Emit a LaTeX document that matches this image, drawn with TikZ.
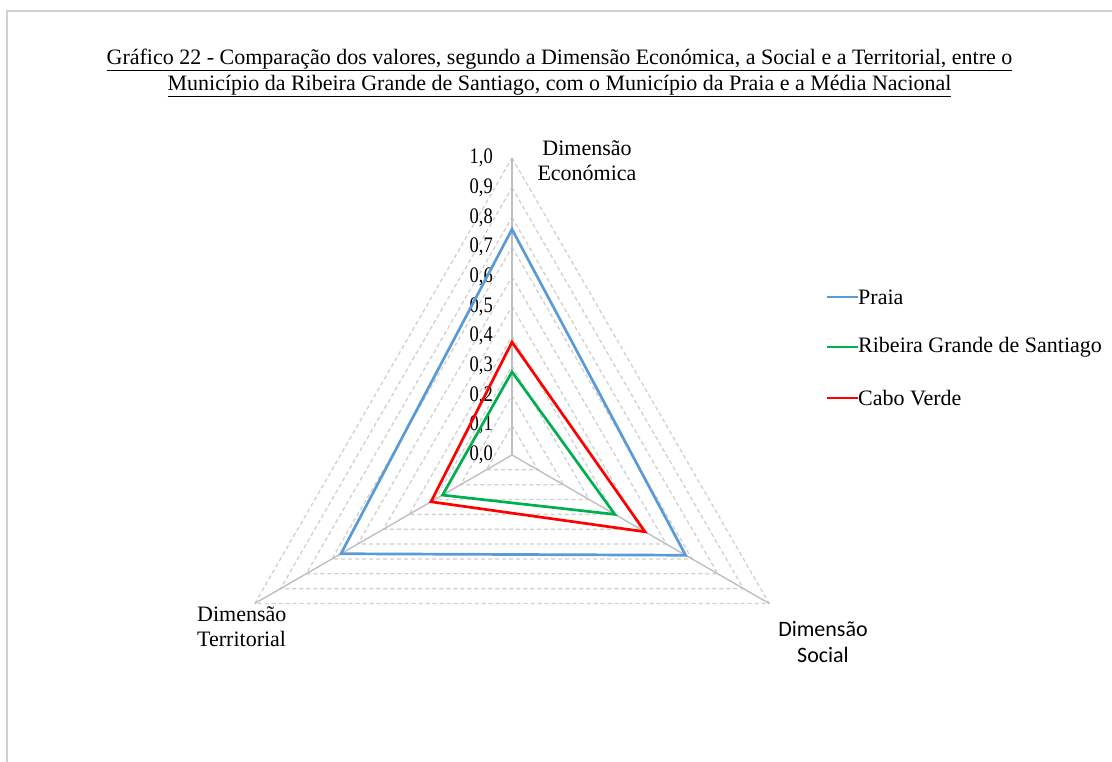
\documentclass[tikz,border=0pt]{standalone}
\usepackage{fontspec}
\setmainfont{Liberation Serif}
\newfontfamily\calibrifont{Carlito}
\definecolor{praiablue}{HTML}{5B9BD5}
\definecolor{rgsgreen}{HTML}{00B050}
\definecolor{cvred}{HTML}{FF0000}
\definecolor{gridgray}{HTML}{D0D0D0}
\definecolor{axisgray}{HTML}{BFBFBF}
\tikzset{
  gridline/.style={gridgray, dash pattern=on 4pt off 3pt, line width=1.3pt},
  spoke/.style={axisgray, line width=1.4pt},
  series/.style={line width=2.7pt, line join=miter},
  lbl/.style={font=\fontsize{22}{25}\selectfont, inner sep=0pt},
  ticklbl/.style={font=\fontsize{18.5}{22}\selectfont, inner sep=0pt, anchor=east},
}
\newcommand{\rad}{297}

\begin{document}
\begin{tikzpicture}[x=1pt,y=1pt]
    \useasboundingbox (-512,-307) rectangle (600,455);
    \draw[gridgray, line width=2pt] (-504.5,-310) -- (-504.5,443.5) -- (605,443.5);

    % title
    \node[lbl, align=center, font=\fontsize{22}{26}\selectfont] (title) at (47.5,382) {\underline{Gráfico 22 - Comparação dos valores, segundo a Dimensão Económica, a Social e a Territorial, entre o}\\
        \underline{Município da Ribeira Grande de Santiago, com o Município da Praia e a Média Nacional}};

    % grid (0,1 steps)
    \foreach \i in {1,...,10}{
        \draw[gridline] (90:{\i*\rad/10}) -- (-30:{\i*\rad/10}) -- (210:{\i*\rad/10}) -- cycle;
    }
    \foreach \a in {90,-30,210}{
        \draw[spoke] (0,0) -- (\a:\rad);
    }

    % scale labels
    \foreach \i in {0,...,9}{
        \node[ticklbl] (tick\i) at (-19,{\i*\rad/10}) {\scalebox{1}[1.2]{0,\i}};
    }
    \node[ticklbl] (tick10) at (-19,\rad) {\scalebox{1}[1.2]{1,0}};

    % axis names
    \node[lbl, align=center] (econ) at (75,294.5) {Dimensão\\Económica};
    \node[lbl, align=left, anchor=west] (terr) at (-315,-172) {Dimensão\\Territorial};
    \node[lbl, align=center, font=\calibrifont\fontsize{22}{26}\selectfont] (social) at (311,-187) {Dimensão\\Social};

    % series
    \draw[series, praiablue] (90:{0.76*\rad}) -- (-30:{0.675*\rad}) -- (210:{0.665*\rad}) -- cycle;
    \draw[series, rgsgreen] (90:{0.28*\rad}) -- (-30:{0.40*\rad}) -- (210:{0.27*\rad}) -- cycle;
    \draw[series, cvred] (90:{0.38*\rad}) -- (-30:{0.517*\rad}) -- (210:{0.315*\rad}) -- cycle;

    % legend
    \foreach \n/\c/\t/\y in {praia/praiablue/Praia/158, rgs/rgsgreen/Ribeira Grande de Santiago/108, cv/cvred/Cabo Verde/57}{
        \node[lbl, anchor=west] (leg\n) at (346,\y) {\t};
        \draw[\c, line width=2pt] (leg\n.west) -- ++(-31,0);
    }
\end{tikzpicture}
\end{document}
